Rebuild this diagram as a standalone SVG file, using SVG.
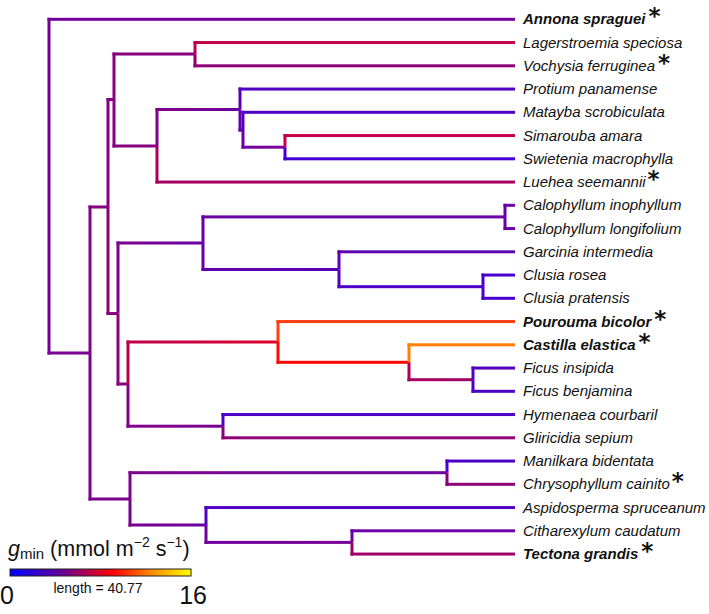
<svg xmlns="http://www.w3.org/2000/svg" width="709" height="614" viewBox="0 0 709 614">
<style>
.lab{font-family:"Liberation Sans",Arial,sans-serif;font-size:15px;font-style:italic;fill:#111}
.b{font-weight:bold}
.ast{font-family:"DejaVu Sans",sans-serif;font-size:23px;font-style:normal;font-weight:bold}
.leg{font-family:"Liberation Sans",Arial,sans-serif;fill:#111}
</style>
<defs>
<linearGradient id="gG"><stop offset="0" stop-color="#820088"/><stop offset="1" stop-color="#6a00a0"/></linearGradient>
<linearGradient id="gI"><stop offset="0" stop-color="#6c00a6"/><stop offset="1" stop-color="#7e0096"/></linearGradient>
<linearGradient id="gK"><stop offset="0" stop-color="#7c008e"/><stop offset="1" stop-color="#6a00a4"/></linearGradient>
<linearGradient id="gM"><stop offset="0" stop-color="#6400aa"/><stop offset="1" stop-color="#5800b8"/></linearGradient>
<linearGradient id="gO"><stop offset="0" stop-color="#c0004a"/><stop offset="1" stop-color="#dc002c"/></linearGradient>
<linearGradient id="gQ"><stop offset="0" stop-color="#b0005a"/><stop offset="1" stop-color="#9a0068"/></linearGradient>
<linearGradient id="gR"><stop offset="0" stop-color="#86008a"/><stop offset="1" stop-color="#7a0094"/></linearGradient>
<linearGradient id="gT"><stop offset="0" stop-color="#7c008e"/><stop offset="1" stop-color="#6e009c"/></linearGradient>
<linearGradient id="gU"><stop offset="0" stop-color="#78008e"/><stop offset="1" stop-color="#6c00a0"/></linearGradient>
<linearGradient id="gV"><stop offset="0" stop-color="#7000a0"/><stop offset="1" stop-color="#7c0094"/></linearGradient>
<linearGradient id="gLeg"><stop offset="0" stop-color="#0000ff"/><stop offset="0.3" stop-color="#6a0090"/><stop offset="0.46" stop-color="#c8003a"/><stop offset="0.57" stop-color="#ff0000"/><stop offset="0.78" stop-color="#ff8a00"/><stop offset="1" stop-color="#ffff00"/></linearGradient>
</defs>
<rect width="709" height="614" fill="#fff"/>
<g id="connectors">
<rect x="47.5" y="17.8" width="467.5" height="3" fill="#72009a"/>
<rect x="47.5" y="17.8" width="3" height="336.7" fill="#72009a"/>
<rect x="47.5" y="351.5" width="42.5" height="3" fill="#7a0092"/>
<rect x="88.5" y="205.5" width="3" height="147.5" fill="#820088"/>
<rect x="88.5" y="353" width="3" height="147.5" fill="#7a008e"/>
<rect x="88.5" y="205.5" width="19.5" height="3" fill="#840086"/>
<rect x="106.5" y="98" width="3" height="109" fill="#860082"/>
<rect x="106.5" y="207" width="3" height="108" fill="#880080"/>
<rect x="106.5" y="98" width="7.5" height="3" fill="#860082"/>
<rect x="112.5" y="52.5" width="3" height="95" fill="#880080"/>
<rect x="112.5" y="52.5" width="82.5" height="3" fill="#8a007c"/>
<rect x="193.5" y="41.05" width="3" height="13.15" fill="#b8004f"/>
<rect x="193.5" y="54.2" width="3" height="13.1" fill="#8c0076"/>
<rect x="193.5" y="41.05" width="321.5" height="3" fill="#c0004a"/>
<rect x="193.5" y="64.3" width="321.5" height="3" fill="#8e0074"/>
<rect x="112.5" y="144.5" width="44.5" height="3" fill="#880080"/>
<rect x="155.5" y="108" width="3" height="38" fill="#800088"/>
<rect x="155.5" y="146" width="3" height="37.5" fill="#a80060"/>
<rect x="155.5" y="108" width="84.5" height="3" fill="url(#gG)"/>
<rect x="238.5" y="87.5" width="3" height="22" fill="#5a00b8"/>
<rect x="238.5" y="109.5" width="3" height="22" fill="#6000b0"/>
<rect x="238.5" y="87.55" width="276.5" height="3" fill="#5200c2"/>
<rect x="238.5" y="128.5" width="4.5" height="3" fill="#6400ac"/>
<rect x="241.5" y="110.8" width="3" height="19.2" fill="#5600be"/>
<rect x="241.5" y="130" width="3" height="18.7" fill="#6c00a6"/>
<rect x="241.5" y="110.8" width="273.5" height="3" fill="#5000c4"/>
<rect x="241.5" y="145.7" width="43.5" height="3" fill="url(#gI)"/>
<rect x="283.5" y="134.05" width="3" height="13.15" fill="#c4004a"/>
<rect x="283.5" y="147.2" width="3" height="13.1" fill="#4400d4"/>
<rect x="283.5" y="134.05" width="231.5" height="3" fill="#c4004a"/>
<rect x="283.5" y="157.3" width="231.5" height="3" fill="#4400d4"/>
<rect x="155.5" y="180.55" width="359.5" height="3" fill="#a8005e"/>
<rect x="106.5" y="312" width="11.5" height="3" fill="#880080"/>
<rect x="116.5" y="241.5" width="3" height="72" fill="#7e008c"/>
<rect x="116.5" y="313.5" width="3" height="72" fill="#8a0080"/>
<rect x="116.5" y="241.5" width="86.5" height="3" fill="url(#gK)"/>
<rect x="201.5" y="215.4" width="3" height="27.6" fill="#6a00a4"/>
<rect x="201.5" y="243" width="3" height="28" fill="#6400aa"/>
<rect x="201.5" y="215.4" width="303.5" height="3" fill="#6a00a6"/>
<rect x="503.5" y="203.8" width="3" height="26.25" fill="#6a00a6"/>
<rect x="503.5" y="203.8" width="11.5" height="3" fill="#6a00a6"/>
<rect x="503.5" y="227.05" width="11.5" height="3" fill="#6a00a6"/>
<rect x="201.5" y="268" width="137.5" height="3" fill="url(#gM)"/>
<rect x="337.5" y="250.3" width="3" height="19.2" fill="#6000b0"/>
<rect x="337.5" y="269.5" width="3" height="18.7" fill="#5200c2"/>
<rect x="337.5" y="250.3" width="177.5" height="3" fill="#6000b0"/>
<rect x="337.5" y="285.2" width="145.5" height="3" fill="#4c00c8"/>
<rect x="481.5" y="273.55" width="3" height="26.25" fill="#4800d0"/>
<rect x="481.5" y="273.55" width="33.5" height="3" fill="#4800d0"/>
<rect x="481.5" y="296.8" width="33.5" height="3" fill="#4800d0"/>
<rect x="116.5" y="382.5" width="11.5" height="3" fill="#8a0080"/>
<rect x="126.5" y="340.5" width="3" height="43.5" fill="#b8004e"/>
<rect x="126.5" y="384" width="3" height="43.7" fill="#86008a"/>
<rect x="126.5" y="340.5" width="151.5" height="3" fill="url(#gO)"/>
<rect x="276.5" y="320.05" width="3" height="22" fill="#ff4010"/>
<rect x="276.5" y="342" width="3" height="21.8" fill="#ff0a00"/>
<rect x="276.5" y="320.05" width="238.5" height="3" fill="#ff4010"/>
<rect x="276.5" y="360.8" width="132.5" height="3" fill="#ff0804"/>
<rect x="407.5" y="343.3" width="3" height="19" fill="#ff8000"/>
<rect x="407.5" y="362.3" width="3" height="18.9" fill="#b0005a"/>
<rect x="407.5" y="343.3" width="107.5" height="3" fill="#ff8000"/>
<rect x="407.5" y="378.2" width="65.5" height="3" fill="url(#gQ)"/>
<rect x="471.5" y="366.55" width="3" height="13.15" fill="#5400c0"/>
<rect x="471.5" y="379.7" width="3" height="13.1" fill="#4c00c8"/>
<rect x="471.5" y="366.55" width="43.5" height="3" fill="#5400c0"/>
<rect x="471.5" y="389.8" width="43.5" height="3" fill="#4c00c8"/>
<rect x="126.5" y="424.7" width="96.5" height="3" fill="url(#gR)"/>
<rect x="221.5" y="413.05" width="3" height="13.15" fill="#5000c4"/>
<rect x="221.5" y="426.2" width="3" height="13.1" fill="#88007e"/>
<rect x="221.5" y="413.05" width="293.5" height="3" fill="#4e00c6"/>
<rect x="221.5" y="436.3" width="293.5" height="3" fill="#8e0076"/>
<rect x="88.5" y="497.5" width="41.5" height="3" fill="#7c008e"/>
<rect x="128.5" y="471.2" width="3" height="27.8" fill="#7c008e"/>
<rect x="128.5" y="499" width="3" height="27.5" fill="#78008e"/>
<rect x="128.5" y="471.2" width="318.5" height="3" fill="url(#gT)"/>
<rect x="445.5" y="459.55" width="3" height="13.15" fill="#4c00c8"/>
<rect x="445.5" y="472.7" width="3" height="13.1" fill="#8a007a"/>
<rect x="445.5" y="459.55" width="69.5" height="3" fill="#4c00c8"/>
<rect x="445.5" y="482.8" width="69.5" height="3" fill="#8c0078"/>
<rect x="128.5" y="523.5" width="77.5" height="3" fill="url(#gU)"/>
<rect x="204.5" y="506.05" width="3" height="19" fill="#5200c4"/>
<rect x="204.5" y="525" width="3" height="18.9" fill="#7000a0"/>
<rect x="204.5" y="506.05" width="310.5" height="3" fill="#5000c4"/>
<rect x="204.5" y="540.9" width="147.5" height="3" fill="url(#gV)"/>
<rect x="350.5" y="529.3" width="3" height="13.1" fill="#6c00a6"/>
<rect x="350.5" y="542.4" width="3" height="13.15" fill="#a00066"/>
<rect x="350.5" y="529.3" width="164.5" height="3" fill="#6c00a6"/>
<rect x="350.5" y="552.55" width="164.5" height="3" fill="#a00066"/>
</g>
<g id="annona"><text class="lab b" x="523" y="24.3">Annona spraguei<tspan class="ast" dx="3">*</tspan></text></g>
<g id="lagerstroemia"><text class="lab" x="523" y="47.5">Lagerstroemia speciosa</text></g>
<g id="vochysia"><text class="lab" x="523" y="70.8">Vochysia ferruginea<tspan class="ast" dx="3">*</tspan></text></g>
<g id="protium"><text class="lab" x="523" y="94">Protium panamense</text></g>
<g id="matayba"><text class="lab" x="523" y="117.3">Matayba scrobiculata</text></g>
<g id="simarouba"><text class="lab" x="523" y="140.5">Simarouba amara</text></g>
<g id="swietenia"><text class="lab" x="523" y="163.8">Swietenia macrophylla</text></g>
<g id="luehea"><text class="lab" x="523" y="187">Luehea seemannii<tspan class="ast" dx="2">*</tspan></text></g>
<g id="calophyllum-ino"><text class="lab" x="523" y="210.3">Calophyllum inophyllum</text></g>
<g id="calophyllum-lon"><text class="lab" x="523" y="233.5">Calophyllum longifolium</text></g>
<g id="garcinia"><text class="lab" x="523" y="256.8">Garcinia intermedia</text></g>
<g id="clusia-rosea"><text class="lab" x="523" y="280">Clusia rosea</text></g>
<g id="clusia-pratensis"><text class="lab" x="523" y="303.3">Clusia pratensis</text></g>
<g id="pourouma"><text class="lab b" x="523" y="326.5">Pourouma bicolor<tspan class="ast" dx="3">*</tspan></text></g>
<g id="castilla"><text class="lab b" x="523" y="349.8">Castilla elastica<tspan class="ast" dx="3">*</tspan></text></g>
<g id="ficus-insipida"><text class="lab" x="523" y="373">Ficus insipida</text></g>
<g id="ficus-benjamina"><text class="lab" x="523" y="396.3">Ficus benjamina</text></g>
<g id="hymenaea"><text class="lab" x="523" y="419.5">Hymenaea courbaril</text></g>
<g id="gliricidia"><text class="lab" x="523" y="442.8">Gliricidia sepium</text></g>
<g id="manilkara"><text class="lab" x="523" y="466">Manilkara bidentata</text></g>
<g id="chrysophyllum"><text class="lab" x="523" y="489.3">Chrysophyllum cainito<tspan class="ast" dx="2">*</tspan></text></g>
<g id="aspidosperma"><text class="lab" x="523" y="512.5">Aspidosperma spruceanum</text></g>
<g id="citharexylum"><text class="lab" x="523" y="535.8">Citharexylum caudatum</text></g>
<g id="tectona"><text class="lab b" x="523" y="559">Tectona grandis<tspan class="ast" dx="3">*</tspan></text></g>
<g id="legend">
<text class="leg" x="8" y="555.5" font-size="21.5"><tspan font-style="italic">g</tspan><tspan font-size="15" dy="3">min</tspan><tspan dy="-3"> (mmol m</tspan><tspan font-size="14" dy="-8.5">−2</tspan><tspan dy="8.5"> s</tspan><tspan font-size="14" dy="-8.5">−1</tspan><tspan dy="8.5">)</tspan></text>
<rect x="10" y="569" width="181" height="7" fill="url(#gLeg)" stroke="#222" stroke-width="1"/>
<text class="leg" x="98" y="593" font-size="14" text-anchor="middle">length = 40.77</text>
<text class="leg" x="0" y="604" font-size="25">0</text>
<text class="leg" x="207" y="604" font-size="25" text-anchor="end">16</text>
</g>
</svg>
